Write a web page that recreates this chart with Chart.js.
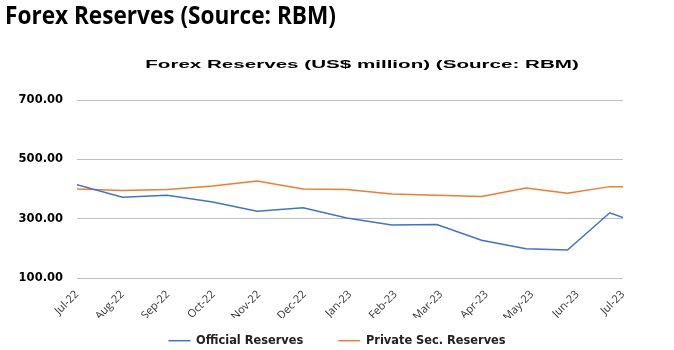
<!DOCTYPE html>
<html>
<head>
<meta charset="utf-8">
<script src="https://cdn.jsdelivr.net/npm/chart.js@4.4.0/dist/chart.umd.min.js"></script>
<style>
    body { margin: 0; background: #ffffff; }
    #wrap { position: absolute; left: 0; top: 0; width: 674px; height: 350px; }
    #pagetitle {
        position: absolute; left: 5px; top: -3px;
        font-family: "Open Sans"; font-weight: bold; font-size: 25px;
        transform-origin: 0 0; transform: scaleX(0.904);
        white-space: nowrap; color: #000000;
    }
    #charttitle {
        position: absolute; left: 362px; top: 57px;
        font-family: "Liberation Sans"; font-weight: bold; font-size: 11.5px; line-height: 14px;
        transform-origin: 50% 0; transform: translateX(-50%) scaleX(1.79);
        white-space: nowrap; color: #000000;
    }
</style>
</head>
<body>
<div id="wrap"><canvas id="forexchart"></canvas></div>
<div id="pagetitle">Forex Reserves (Source: RBM)</div>
<div id="charttitle">Forex Reserves (US$ million) (Source: RBM)</div>
<script>
const forexChart = document.getElementById("forexchart");

// month labels on the axis
const months = ["Jul-22", "Aug-22", "Sep-22", "Oct-22", "Nov-22", "Dec-22", "Jan-23",
                "Feb-23", "Mar-23", "Apr-23", "May-23", "Jun-23", "Jul-23"];
// where each reading sits along the axis (in months from Jul-22)
const readingPos = [0, 1.0, 1.98, 2.98, 3.96, 4.97, 5.93, 6.92, 7.91, 8.89, 9.87, 10.78, 11.71, 12];
const officialReserves = [414, 372, 379, 356, 325, 337, 302, 279, 280, 227, 199, 194, 320, 304];
const privateReserves = [400, 395, 398, 410, 427, 400, 398, 383, 379, 375, 403, 386, 408, 408];
const yTicks = [100, 300, 500, 700];

function toPoints(vals) {
    return vals.map((v, i) => ({ x: readingPos[i], y: v }));
}

// legend keeps its wide item gap but not the tall box that comes with it,
// and is centred on the whole page rather than the plot
const legendPlace = {
    id: "legendPlace",
    beforeInit(chart) {
        const fitLegend = chart.legend.fit;
        chart.legend.fit = function() {
            fitLegend.bind(chart.legend)();
            this.height = 32;
        };
    },
    afterLayout(chart) {
        const lg = chart.legend;
        lg.top = 300;
        lg.bottom = 350;
        lg.left = 0;
        lg.right = chart.width;
        lg.width = chart.width;
    }
};

new Chart(forexChart, {
    type: "line",
    data: {
        datasets: [
            {
                label: "Official Reserves",
                data: toPoints(officialReserves),
                borderColor: "#4472c4",
                backgroundColor: "#4472c4",
                borderWidth: 1.5,
                pointRadius: 0,
                tension: 0
            },
            {
                label: "Private Sec. Reserves",
                data: toPoints(privateReserves),
                borderColor: "#ed7d31",
                backgroundColor: "#ed7d31",
                borderWidth: 1.5,
                pointRadius: 0,
                tension: 0
            }
        ]
    },
    plugins: [legendPlace],
    options: {
        responsive: true,
        maintainAspectRatio: false,
        animation: false,
        layout: { padding: { left: 0, right: 51, top: 100, bottom: 0 } },
        plugins: {
            title: { display: false },
            legend: {
                position: "bottom",
                labels: {
                    color: "#222222",
                    font: { family: "DejaVu Sans", size: 11.4, weight: "bold" },
                    usePointStyle: true,
                    pointStyle: "line",
                    pointStyleWidth: 22,
                    padding: 35
                }
            },
            tooltip: { enabled: false }
        },
        scales: {
            x: {
                type: "linear",
                min: 0,
                max: months.length - 1,
                afterBuildTicks: (scale) => {
                    scale.ticks = months.map((m, i) => ({ value: i }));
                },
                afterFit: (scale) => { scale.height = 40; },
                grid: { display: false },
                border: { display: false },
                ticks: {
                    autoSkip: false,
                    minRotation: 45,
                    maxRotation: 45,
                    padding: 2,
                    color: "#333333",
                    font: { family: "Open Sans", size: 11 },
                    callback: (v) => months[v]
                }
            },
            y: {
                min: yTicks[0],
                max: yTicks[yTicks.length - 1],
                afterBuildTicks: (scale) => {
                    scale.ticks = yTicks.map(v => ({ value: v }));
                },
                afterFit: (scale) => { scale.width = 77; },
                grid: { color: "#bfbfbf", lineWidth: 1, drawTicks: false },
                border: { display: false },
                ticks: {
                    padding: 14,
                    color: "#000000",
                    font: { family: "DejaVu Sans", size: 11.5, weight: "bold" },
                    callback: (v) => v.toFixed(2)
                }
            }
        }
    }
});
</script>
</body>
</html>
